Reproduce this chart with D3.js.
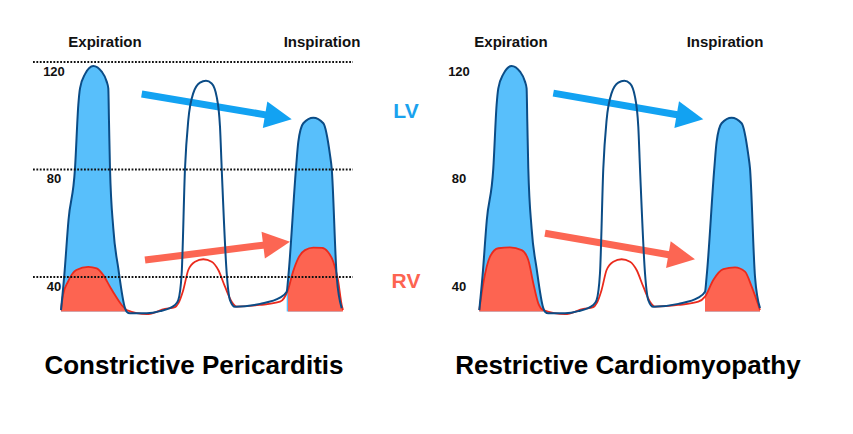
<!DOCTYPE html>
<html>
<head>
<meta charset="utf-8">
<script src="https://cdnjs.cloudflare.com/ajax/libs/d3/7.8.5/d3.min.js"></script>
<style>
  body { margin: 0; background: #fff; }
  text { font-family: "Liberation Sans", Arial, Helvetica, sans-serif; font-weight: bold; }
</style>
</head>
<body>
<div id="chart"></div>
<script>
// Data (time units, mmHg)
//================================
var pressureTicks = [120, 80, 40];
var phaseLabels = ["Expiration", "Inspiration"];
var panelTitles = ["Constrictive Pericarditis", "Restrictive Cardiomyopathy"];

// LV pressure wave, same in both panels
var lvWave = [
  [0, 27.7], [3.3, 40.7], [7.5, 61.2], [14, 80.4], [17.3, 104], [19, 110.2],
  [24, 115.5], [32.3, 118.5], [40.7, 116.4], [45.7, 112.7], [47.3, 110.2],
  [48, 97.8], [49, 80.4], [52.3, 58.1], [57.3, 43.2], [64, 28.4], [65.7, 27.1],
  [69, 26.5], [85.7, 26.5], [99, 27.3], [114, 29.6], [117.3, 31.4],
  [120.7, 41.5], [124, 80.4], [127.3, 98.4], [132.3, 108.4], [139, 112.3],
  [145, 113], [150.7, 112], [155.7, 107], [159, 95.9], [160.7, 80.4],
  [165.7, 41.4], [169, 31.4], [174, 28.9], [199, 30], [219, 32.3],
  [225.7, 34.5], [227.3, 40.1], [235, 80.4], [237.3, 90.3], [242.3, 97.2],
  [252.3, 99.3], [262.3, 97.2], [269, 85.4], [270.7, 80.4], [275.7, 40.1],
  [280.7, 28.4]
];

// RV pressure wave, constrictive pericarditis
var rvWaveCP = [
  [0, 27.7], [2, 33.3], [7, 38.3], [15.3, 42.6], [27.3, 43.8], [35.7, 43.2],
  [42.3, 40.7], [49, 36.4], [54, 33.3], [60.7, 29.6], [65.7, 27.7],
  [85.7, 26.2], [104, 28.1], [114, 28.8], [117.3, 30.2], [122.3, 35.2],
  [127.3, 42.6], [134, 45.7], [142.3, 46.6], [150.7, 45.7], [157.3, 42.6],
  [164, 36.4], [170.7, 30.8], [175.7, 29], [199, 29.6], [219, 30.8],
  [227, 35.2], [232, 41.9], [237.3, 47], [244, 50], [252.3, 50.9],
  [261, 50.8], [267, 49.3], [272.3, 45.7], [277, 38.9], [280.7, 29.6], [282, 27.7]
];

// RV pressure wave, restrictive cardiomyopathy
var rvWaveRCM = [
  [0, 27.7], [4, 37.7], [10.7, 47.6], [19, 50.7], [30.7, 51], [42.4, 50],
  [49, 46.3], [54, 37.7], [59, 30.2], [64, 27.7],
  [85.7, 26.2], [104, 28.1], [114, 28.8], [117.3, 30.2], [122.3, 35.2],
  [127.3, 42.6], [134, 45.7], [142.3, 46.6], [150.7, 45.7], [157.3, 42.6],
  [164, 36.4], [170.7, 30.8], [175.7, 29], [199, 29.6], [219, 30.8],
  [225.7, 32.7], [234, 38.9], [244, 42.9], [255.7, 43.6], [265.7, 42],
  [272.4, 36.4], [280.7, 27.7]
];

// arrows [start, tip] in (time, mmHg)
var lvArrowCP = [[80.7, 108.1], [230.7, 98.7]];
var rvArrowCP = [[84, 46.3], [229, 53.1]];
var lvArrowRCM = [[74, 108.4], [224, 98.7]];
var rvArrowRCM = [[65.7, 56.3], [215.7, 46.6]];

var fillFloor = 27.2;

// Set up our chart area
//================================
var svgWidth = 853;
var svgHeight = 434;

var svg = d3.select("#chart")
  .append("svg")
  .attr("width", svgWidth)
  .attr("height", svgHeight);

var yScale = d3.scaleLinear()
  .domain([40, 120])
  .range([277, 62]);

var panels = [
  { rv: rvWaveCP, lvArrow: lvArrowCP, rvArrow: rvArrowCP, range: [61, 343],
    tickX: 54, phaseX: [105, 322], titleX: 194, grid: [33, 353] },
  { rv: rvWaveRCM, lvArrow: lvArrowRCM, rvArrow: rvArrowRCM, range: [479.3, 761.3],
    tickX: 459, phaseX: [511, 725], titleX: 628, grid: null }
];

var lvLine = "#0b4c86";
var lvFill = "#58bffb";
var rvLine = "#ea2a1c";
var rvFill = "#fd6451";
var lvArrowColor = "#12a2f2";
var rvArrowColor = "#fc6653";

function drawArrow(g, x, pts, color) {
  var x0 = x(pts[0][0]), y0 = yScale(pts[0][1]);
  var x1 = x(pts[1][0]), y1 = yScale(pts[1][1]);
  var ang = Math.atan2(y1 - y0, x1 - x0);
  var headLen = 27, headHalf = 13.5;
  var bx = x1 - headLen * Math.cos(ang), by = y1 - headLen * Math.sin(ang);
  g.append("line")
    .attr("x1", x0).attr("y1", y0)
    .attr("x2", bx + 2 * Math.cos(ang)).attr("y2", by + 2 * Math.sin(ang))
    .attr("stroke", color)
    .attr("stroke-width", 7);
  var px = -Math.sin(ang), py = Math.cos(ang);
  g.append("polygon")
    .attr("points", [
      [x1, y1],
      [bx + px * headHalf, by + py * headHalf],
      [bx - px * headHalf, by - py * headHalf]
    ].map(p => p.join(",")).join(" "))
    .attr("fill", color);
}

panels.forEach(function(panel, i) {
  var g = svg.append("g");
  var x = d3.scaleLinear().domain([0, 282]).range(panel.range);

  var line = d3.line()
    .x(d => x(d[0]))
    .y(d => yScale(d[1]))
    .curve(d3.curveMonotoneX);

  var area = d3.area()
    .x(d => x(d[0]))
    .y0(yScale(fillFloor))
    .y1(d => yScale(d[1]))
    .curve(d3.curveMonotoneX);

  // arrows go under the waves
  drawArrow(g, x, panel.lvArrow, lvArrowColor);
  drawArrow(g, x, panel.rvArrow, rvArrowColor);

  // filled beats (expiration and inspiration)
  [lvWave.filter(d => d[0] <= 65.7), lvWave.filter(d => d[0] >= 225.7)].forEach(function(seg) {
    g.append("path").attr("d", area(seg)).attr("fill", lvFill);
  });
  [panel.rv.filter(d => d[0] <= 65.7), panel.rv.filter(d => d[0] >= 225)].forEach(function(seg) {
    g.append("path").attr("d", area(seg)).attr("fill", rvFill);
  });

  g.append("path")
    .attr("d", line(panel.rv))
    .attr("fill", "none")
    .attr("stroke", rvLine)
    .attr("stroke-width", 1.8);

  g.append("path")
    .attr("d", line(lvWave))
    .attr("fill", "none")
    .attr("stroke", lvLine)
    .attr("stroke-width", 2);

  // dotted reference lines (left panel only)
  if (panel.grid) {
    g.selectAll(".grid")
      .data(pressureTicks)
      .enter()
      .append("line")
      .attr("x1", panel.grid[0])
      .attr("x2", panel.grid[1])
      .attr("y1", d => yScale(d))
      .attr("y2", d => yScale(d))
      .attr("stroke", "#111")
      .attr("stroke-width", 1.8)
      .attr("stroke-dasharray", "1.8,1.6");
  }

  // pressure labels
  g.selectAll(".tick")
    .data(pressureTicks)
    .enter()
    .append("text")
    .attr("x", panel.tickX)
    .attr("y", d => yScale(d) + 13.5)
    .attr("text-anchor", "middle")
    .style("font-size", "13px")
    .attr("fill", "#111")
    .text(d => d);

  // phase labels
  g.selectAll(".phase")
    .data(phaseLabels)
    .enter()
    .append("text")
    .attr("x", (d, j) => panel.phaseX[j])
    .attr("y", 47)
    .attr("text-anchor", "middle")
    .style("font-size", "15px")
    .attr("fill", "#111")
    .text(d => d);

  // panel title
  g.append("text")
    .attr("x", panel.titleX)
    .attr("y", 374)
    .attr("text-anchor", "middle")
    .style("font-size", "26px")
    .attr("fill", "#000")
    .text(panelTitles[i]);
});

// LV / RV legend between the panels
svg.append("text")
  .attr("x", 406).attr("y", 118)
  .attr("text-anchor", "middle")
  .style("font-size", "21px")
  .attr("fill", "#1aa2ee")
  .text("LV");

svg.append("text")
  .attr("x", 406).attr("y", 288)
  .attr("text-anchor", "middle")
  .style("font-size", "21px")
  .attr("fill", rvFill)
  .text("RV");
</script>
</body>
</html>
